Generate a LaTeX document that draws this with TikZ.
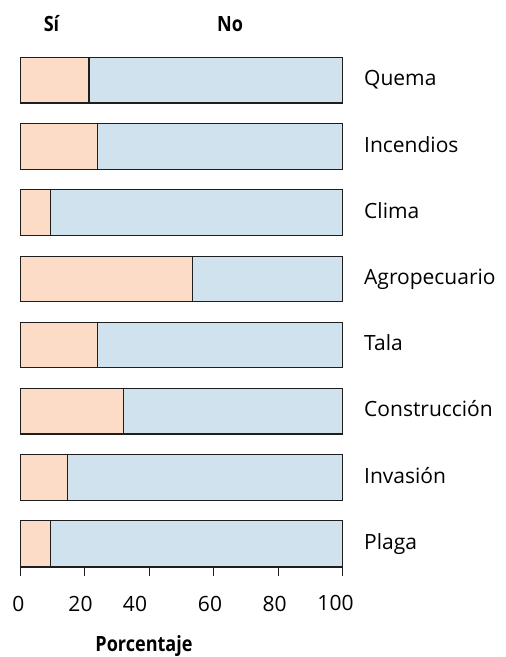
\documentclass[tikz,border=0pt]{standalone}
\usepackage{fontspec}
\setmainfont{Open Sans}
\newfontfamily\headfont{Open Sans}[FakeStretch=0.86]
\usetikzlibrary{calc}
\definecolor{sipink}{RGB}{252,219,199}
\definecolor{noblue}{RGB}{207,226,238}
\definecolor{edge}{RGB}{30,30,30}
\begin{document}
\begin{tikzpicture}[x=1pt,y=-1pt,
  barline/.style={draw=edge,line width=1.1pt},
  sipart/.style={barline,fill=sipink},
  nopart/.style={barline,fill=noblue},
  catlabel/.style={anchor=base west,inner sep=0pt,font=\fontsize{21}{25}\selectfont},
  ticklabel/.style={anchor=base,inner sep=0pt,font=\fontsize{21}{25}\selectfont},
  headlabel/.style={anchor=base,inner sep=0pt,font=\fontsize{21}{25}\selectfont\headfont\bfseries},
  tickline/.style={draw=edge,line width=1.1pt}]
\useasboundingbox (0,0) rectangle (506,657);
\def\xl{20.3}
\def\sc{3.224}
\foreach \p/\name [count=\i from 0] in {21.3/Quema,24/Incendios,9.3/Clima,53.3/Agropecuario,24/Tala,32.1/Construcción,14.7/Invasión,9.3/Plaga}{
  \pgfmathsetmacro{\top}{57.5+66.2*\i}
  \pgfmathsetmacro{\bot}{\top+45.5}
  \pgfmathsetmacro{\xd}{\xl+\sc*\p}
  \pgfmathsetmacro{\yc}{\top+22.75+5.6}
  \path[nopart] (\xd,\top) rectangle (342.7,\bot);
  \path[sipart] (\xl,\top) rectangle (\xd,\bot);
  \node[catlabel] (lab\i) at (364,\yc) {\name};
}
\coordinate (ax0) at (\xl,567.1);
\coordinate (ax100) at (342.7,567.1);
\draw[tickline] (ax0) -- (ax100);
\foreach \v in {0,20,...,100}{
  \draw[tickline] ($(ax0)!\v/100!(ax100)$) -- ++(0,9);
}
\node[ticklabel] (t0) at (18.5,611.7) {0};
\node[ticklabel] (t20) at (80.5,611.7) {20};
\node[ticklabel] (t40) at (135,611.7) {40};
\node[ticklabel] (t60) at (210,611.7) {60};
\node[ticklabel] (t80) at (274.7,611.7) {80};
\node[ticklabel] (t100) at (335.5,610) {100};
\node[headlabel] (si) at (51.5,31.7) {Sí};
\node[headlabel] (no) at (230,31.7) {No};
\node[headlabel] (xlab) at (144,651.7) {Porcentaje};
\end{tikzpicture}
\end{document}
